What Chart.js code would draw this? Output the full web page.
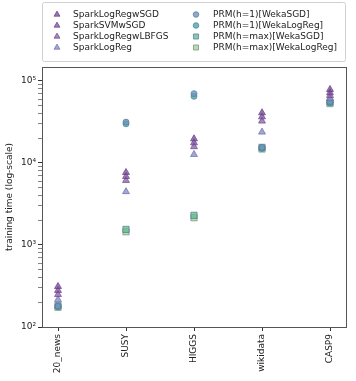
<!DOCTYPE html>
<html><head><meta charset="utf-8">
<script src="https://cdn.jsdelivr.net/npm/chart.js@4/dist/chart.umd.min.js"></script>
<style>html,body{margin:0;padding:0;background:#fff}#wrap{width:356px;height:381px;position:relative}</style>
</head><body><div id="wrap"><canvas id="c" width="356" height="381"></canvas></div>
<script>
const categories = ['20_news','SUSY','HIGGS','wikidata','CASP9'];
const seriesNames = ['SparkLogRegwSGD','SparkSVMwSGD','SparkLogRegwLBFGS','SparkLogReg',
  'PRM(h=1)[WekaSGD]','PRM(h=1)[WekaLogReg]','PRM(h=max)[WekaSGD]','PRM(h=max)[WekaLogReg]'];
const sparkLogRegwSGD   = [312, 7660, 19700, 40900, 78700];
const sparkSVMwSGD      = [279, 6840, 17600, 36500, 71800];
const sparkLogRegwLBFGS = [249, 6120, 15800, 32400, 66500];
const sparkLogReg       = [216, 4470, 12700, 23800, 61000];
const prmH1WekaSGD      = [180, 31500, 70000, 15500, 56000];
const prmH1WekaLogReg   = [176, 30000, 65000, 15000, 54000];
const prmHmaxWekaSGD    = [182, 1550, 2300, 15500, 55500];
const prmHmaxWekaLogReg = [174, 1450, 2150, 14800, 53000];
const yTickLabels = {100:'10\u00b2',1000:'10\u00b3',10000:'10\u2074',100000:'10\u2075'};

const seriesValues = [sparkLogRegwSGD,sparkSVMwSGD,sparkLogRegwLBFGS,sparkLogReg,
  prmH1WekaSGD,prmH1WekaLogReg,prmHmaxWekaSGD,prmHmaxWekaLogReg];
const styles = [
  {shape:'triangle', fill:'rgba(118,70,150,0.75)', edge:'rgba(100,60,130,0.9)', r:4},
  {shape:'triangle', fill:'rgba(125,78,158,0.75)', edge:'rgba(105,65,135,0.9)', r:4},
  {shape:'triangle', fill:'rgba(135,95,165,0.75)', edge:'rgba(110,75,140,0.9)', r:4},
  {shape:'triangle', fill:'rgba(135,145,200,0.8)', edge:'rgba(110,110,170,0.9)', r:4},
  {shape:'circle', fill:'rgba(110,150,185,0.8)', edge:'rgba(90,120,160,0.9)', r:3},
  {shape:'circle', fill:'rgba(80,165,165,0.8)', edge:'rgba(70,130,150,0.9)', r:3},
  {shape:'rect', fill:'rgba(100,190,150,0.8)', edge:'rgba(90,120,150,0.9)', r:4.4},
  {shape:'rect', fill:'rgba(165,215,130,0.8)', edge:'rgba(110,140,150,0.9)', r:4.4}
];

const datasets = seriesNames.map((name,i)=>({
  label:name,
  data: seriesValues[i].map((v,j)=>({x:j,y:v})),
  pointStyle: styles[i].shape,
  pointRadius: styles[i].r,
  pointBackgroundColor: styles[i].fill,
  pointBorderColor: styles[i].edge,
  pointBorderWidth: 0.8,
  showLine:false
}));

const FONT = 'DejaVu Sans';
const framePlugin = {
  id:'frameLegend',
  afterDraw(chart){
    const ctx = chart.ctx, a = chart.chartArea;
    ctx.save();
    ctx.strokeStyle = '#555';
    ctx.lineWidth = 1;
    ctx.strokeRect(Math.round(a.left)+0.5, Math.round(a.top)+0.5, Math.round(a.right-a.left), Math.round(a.bottom-a.top));
    const bx=42.5, by=2.5, bw=303, bh=59;
    ctx.strokeStyle='#d0d0d0';
    ctx.fillStyle='rgba(255,255,255,0.9)';
    ctx.beginPath();
    if (ctx.roundRect) ctx.roundRect(bx,by,bw,bh,2); else ctx.rect(bx,by,bw,bh);
    ctx.fill(); ctx.stroke();
    ctx.font = '9px "'+FONT+'"';
    ctx.textBaseline='middle';
    ctx.textAlign='left';
    chart.data.datasets.forEach((ds,i)=>{
      const col = Math.floor(i/4), row = i%4;
      const mx = col===0 ? 57 : 196;
      const tx = col===0 ? 73 : 213;
      const y = 14.5 + row*11;
      const st = styles[i];
      ctx.fillStyle = st.fill; ctx.strokeStyle = st.edge; ctx.lineWidth=0.8;
      Chart.helpers.drawPoint(ctx,{pointStyle:st.shape, radius: st.shape==='triangle'?3.4:(st.shape==='circle'?2.8:3.6), borderWidth:0.8}, mx, y);
      ctx.fillStyle='#222';
      ctx.fillText(ds.label, tx, y+0.5);
    });
    ctx.restore();
  }
};

new Chart(document.getElementById('c'), {
  type:'scatter',
  data:{datasets},
  plugins:[framePlugin],
  options:{
    responsive:false, animation:false,
    layout:{padding:{top:67,right:10,left:0,bottom:0}},
    plugins:{legend:{display:false}, tooltip:{enabled:false}},
    scales:{
      x:{
        type:'linear', min:-16/68, max:4+16/68,
        afterBuildTicks(s){ s.ticks = categories.map((c,i)=>({value:i})); },
        afterFit(s){ s.height = 54; },
        grid:{drawOnChartArea:false, tickLength:4, tickColor:'#333'},
        border:{display:false},
        ticks:{autoSkip:false, maxRotation:90, minRotation:90, padding:3, color:'#222',
          font:{family:FONT,size:9}, callback:(v)=>categories[v]}
      },
      y:{
        type:'logarithmic', min:100, max:148000,
        afterBuildTicks(s){
          const t=[];
          for (let e=2;e<=5;e++){ for(let m=1;m<=9;m++){ const v=m*Math.pow(10,e); if(v<=148000) t.push({value:v, major:m===1}); } }
          s.ticks=t;
        },
        afterFit(s){ s.width = 42; },
        title:{display:true, text:'training time (log-scale)', color:'#222', font:{family:FONT,size:9}, padding:{top:4,bottom:0}},
        grid:{drawOnChartArea:false, tickLength:4, tickColor:'#333',
          tickWidth:(c)=> (c.tick && yTickLabels[c.tick.value]) ? 1 : 0.6},
        border:{display:false},
        ticks:{autoSkip:false, padding:2, color:'#222', font:{family:FONT,size:9},
          callback:(v)=> yTickLabels[v] || ''}
      }
    }
  }
});
</script></body></html>
